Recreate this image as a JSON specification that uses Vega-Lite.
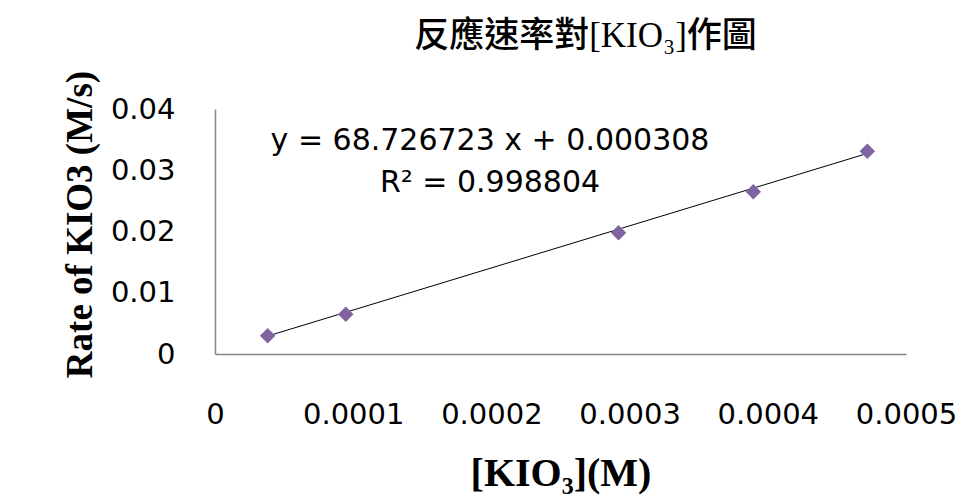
{
  "$schema": "https://vega.github.io/schema/vega-lite/v6.json",
  "autosize": {"type": "none"},
  "width": 691,
  "height": 245,
  "padding": {"left": 215, "top": 109, "right": 70, "bottom": 148},
  "background": "white",
  "config": {
    "view": {"stroke": null},
    "axis": {"grid": false, "ticks": false, "tickSize": 0, "domainColor": "#868686", "domainWidth": 1.5, "labelColor": "#000000", "titleColor": "#000000", "labelFlush": false, "labelOverlap": false, "labelBound": false}
  },
  "title": {
    "text": "反應速率對[KIO₃]作圖",
    "font": "Liberation Serif, Noto Sans CJK TC",
    "fontSize": 35,
    "fontWeight": 500,
    "color": "#000000",
    "anchor": "middle",
    "frame": "group",
    "baseline": "alphabetic",
    "offset": -12,
    "dx": 25
  },
  "datasets": {
    "runs": [
      {"conc": 0.0000381, "rate": 0.00299},
      {"conc": 0.0000946, "rate": 0.00648},
      {"conc": 0.000292, "rate": 0.0198},
      {"conc": 0.0003895, "rate": 0.0265},
      {"conc": 0.000472, "rate": 0.0331}
    ],
    "fit": [
      {"conc": 0.0000381, "rate": 0.0029265},
      {"conc": 0.000472, "rate": 0.032747}
    ]
  },
  "layer": [
    {
      "data": {"name": "fit"},
      "mark": {"type": "line", "color": "#000000", "strokeWidth": 1, "clip": false},
      "encoding": {
        "x": {
          "field": "conc", "type": "quantitative",
          "scale": {"domain": [0, 0.0005], "nice": false, "zero": false},
          "axis": {
            "values": [0, 0.0001, 0.0002, 0.0003, 0.0004, 0.0005],
            "format": "~g",
            "labelFont": "DejaVu Sans",
            "labelFontSize": 29,
            "labelPadding": 46,
            "title": "[KIO₃](M)",
            "titleFont": "Liberation Serif",
            "titleFontSize": 40,
            "titleFontWeight": "bold",
            "titleBaseline": "alphabetic",
            "titleY": 131
          }
        },
        "y": {
          "field": "rate", "type": "quantitative",
          "scale": {"domain": [0, 0.04], "nice": false, "zero": false},
          "axis": {
            "values": [0, 0.01, 0.02, 0.03, 0.04],
            "format": "~g",
            "labelFont": "DejaVu Sans",
            "labelFontSize": 29,
            "labelPadding": 40,
            "title": "Rate of KIO3 (M/s)",
            "titleFont": "Liberation Serif",
            "titleFontSize": 37,
            "titleFontWeight": "bold",
            "titleBaseline": "alphabetic",
            "titleAngle": -90,
            "titleX": -124,
            "titleY": 115
          }
        }
      }
    },
    {
      "data": {"name": "runs"},
      "mark": {"type": "point", "shape": "diamond", "filled": true, "size": 240, "color": "#8064A2", "opacity": 1},
      "encoding": {
        "x": {"field": "conc", "type": "quantitative"},
        "y": {"field": "rate", "type": "quantitative"}
      }
    },
    {
      "data": {"values": [{"label": "y = 68.726723 x + 0.000308"}]},
      "mark": {"type": "text", "font": "DejaVu Sans", "fontSize": 30, "align": "center", "baseline": "alphabetic", "color": "#000000"},
      "encoding": {
        "x": {"datum": 0.000199, "type": "quantitative"},
        "y": {"datum": 0.03331, "type": "quantitative"},
        "text": {"field": "label"}
      }
    },
    {
      "data": {"values": [{"label": "R² = 0.998804"}]},
      "mark": {"type": "text", "font": "DejaVu Sans", "fontSize": 30, "align": "center", "baseline": "alphabetic", "color": "#000000"},
      "encoding": {
        "x": {"datum": 0.000199, "type": "quantitative"},
        "y": {"datum": 0.0265, "type": "quantitative"},
        "text": {"field": "label"}
      }
    }
  ]
}
